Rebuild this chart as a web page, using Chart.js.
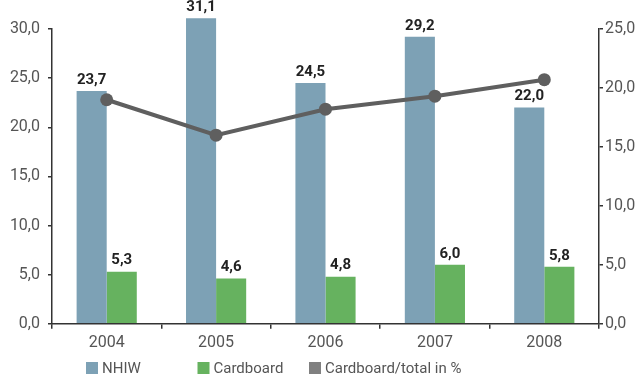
<!DOCTYPE html>
<html>
<head>
<meta charset="utf-8">
<script src="https://cdn.jsdelivr.net/npm/chart.js@4/dist/chart.umd.min.js"></script>
<style>
  html, body { margin: 0; padding: 0; background: #fff; }
</style>
</head>
<body>
<canvas id="wasteChart" width="637" height="376"></canvas>
<script>
const years = ['2004', '2005', '2006', '2007', '2008'];
const nhiw = [23.7, 31.1, 24.5, 29.2, 22.0];
const cardboard = [5.3, 4.6, 4.8, 6.0, 5.8];
const cardboardShare = [19.0, 16.0, 18.2, 19.3, 20.7];
const seriesNames = ['NHIW', 'Cardboard', 'Cardboard/total in %'];
const seriesColors = ['#7da1b5', '#66b25f', '#808080'];

const fmt = v => Number(v).toFixed(1).replace('.', ',');
const tickFont = { family: 'Roboto', size: 16 };

// value labels above the bars
const barLabels = {
    id: 'barLabels',
    afterDatasetsDraw(chart) {
        const ctx = chart.ctx;
        ctx.save();
        ctx.font = 'bold 15px Roboto';
        ctx.fillStyle = '#222';
        ctx.textAlign = 'center';
        ctx.textBaseline = 'middle';
        [0, 1].forEach(i => {
            const meta = chart.getDatasetMeta(i);
            meta.data.forEach((bar, j) => {
                ctx.fillText(fmt(chart.data.datasets[i].data[j]), bar.x, bar.y - 11);
            });
        });
        ctx.restore();
    }
};

// legend in fixed-width columns under the x axis
const columnLegend = {
    id: 'columnLegend',
    afterDraw(chart) {
        const ctx = chart.ctx;
        ctx.save();
        ctx.font = '15px Roboto';
        ctx.textBaseline = 'middle';
        seriesNames.forEach((name, i) => {
            const x = 86 + i * 111.5;
            const y = 368;
            ctx.fillStyle = seriesColors[i];
            ctx.fillRect(x, y - 6, 12, 12);
            ctx.fillStyle = '#555';
            ctx.fillText(name, x + 16, y + 1);
        });
        ctx.restore();
    }
};

new Chart(document.getElementById('wasteChart'), {
    type: 'bar',
    data: {
        labels: years,
        datasets: [
            {
                label: seriesNames[0],
                data: nhiw,
                backgroundColor: seriesColors[0],
                yAxisID: 'y',
                order: 1,
                clip: false
            },
            {
                label: seriesNames[1],
                data: cardboard,
                backgroundColor: seriesColors[1],
                yAxisID: 'y',
                order: 1
            },
            {
                type: 'line',
                label: seriesNames[2],
                data: cardboardShare,
                borderColor: '#5f5f5f',
                backgroundColor: '#5f5f5f',
                borderWidth: 4,
                pointRadius: 6.5,
                pointBorderWidth: 0,
                yAxisID: 'y1',
                order: 0
            }
        ]
    },
    options: {
        responsive: false,
        animation: false,
        layout: { padding: { top: 29, bottom: 18 } },
        datasets: {
            bar: { categoryPercentage: 0.55, barPercentage: 1 }
        },
        plugins: {
            legend: { display: false },
            tooltip: { enabled: false }
        },
        scales: {
            x: {
                offset: true,
                grid: {
                    offset: true,
                    drawOnChartArea: false,
                    drawTicks: true,
                    tickLength: 5,
                    color: '#333',
                    lineWidth: 1.5
                },
                border: { color: '#333', width: 1.5 },
                ticks: { color: '#555', font: tickFont, padding: 5 }
            },
            y: {
                position: 'left',
                min: 0,
                max: 30,
                afterFit(scale) { scale.width = 52; },
                grid: {
                    drawOnChartArea: false,
                    tickLength: 4,
                    color: '#333',
                    lineWidth: 1.5
                },
                border: { color: '#333', width: 1.5 },
                ticks: { stepSize: 5, color: '#555', font: tickFont, padding: 8, callback: fmt }
            },
            y1: {
                position: 'right',
                min: 0,
                max: 25,
                afterFit(scale) { scale.width = 38; },
                grid: {
                    drawOnChartArea: false,
                    tickLength: 4,
                    color: '#333',
                    lineWidth: 1.5
                },
                border: { color: '#333', width: 1.5 },
                ticks: { stepSize: 5, color: '#555', font: tickFont, padding: 2, callback: fmt }
            }
        }
    },
    plugins: [barLabels, columnLegend]
});
</script>
</body>
</html>
